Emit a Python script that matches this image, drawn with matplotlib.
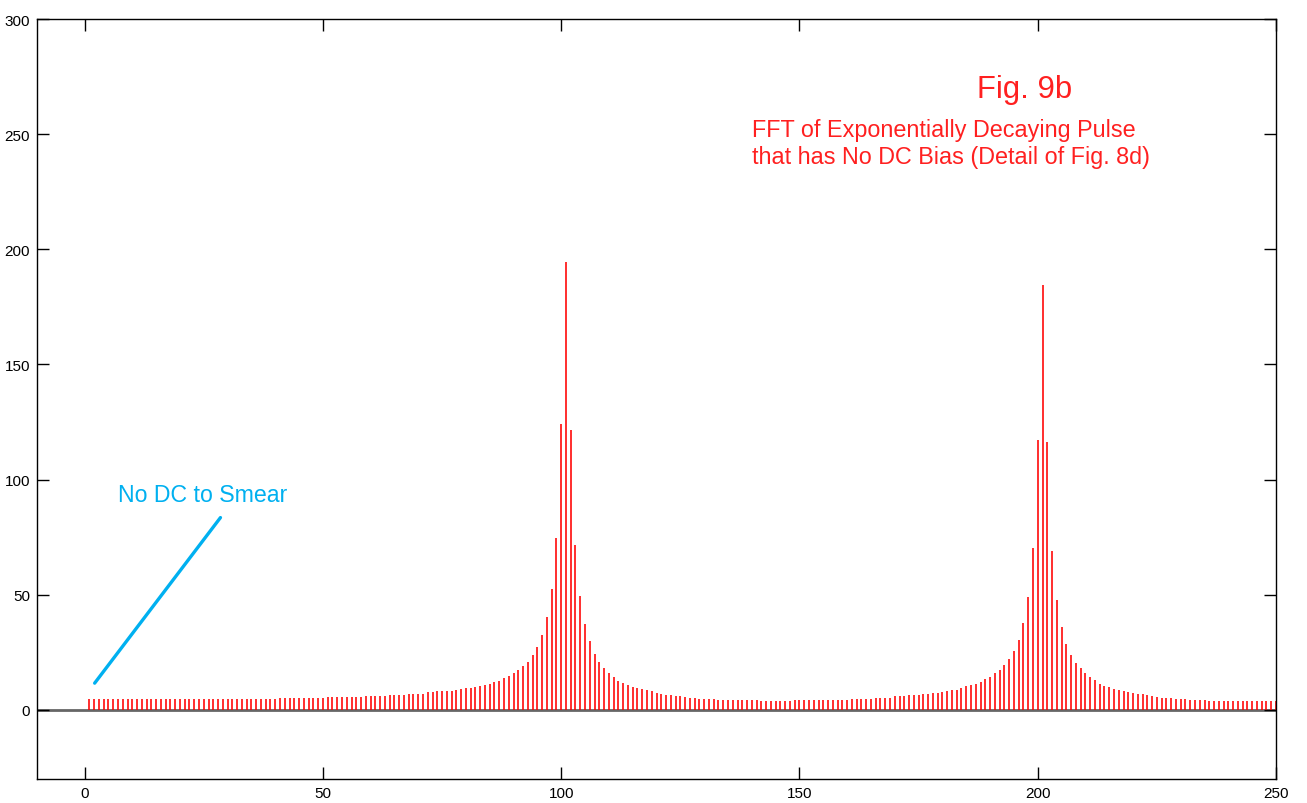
import numpy as np
import matplotlib
matplotlib.use("Agg")
import matplotlib.pyplot as plt
from matplotlib import font_manager

# FFT bins (1..250) and magnitudes
bins = np.arange(1, 251)
magnitude = [
    4.6, 4.6, 4.6, 4.6, 4.6, 4.6, 4.6, 4.6, 4.6, 4.6,
    4.6, 4.6, 4.6, 4.6, 4.6, 4.6, 4.6, 4.6, 4.6, 4.6,
    4.6, 4.6, 4.6, 4.6, 4.6, 4.6, 4.6, 4.6, 4.6, 4.6,
    4.6, 4.6, 4.6, 4.6, 4.6, 4.6, 4.6, 4.9, 4.9, 4.9,
    5.1, 5.1, 5.1, 5.1, 5.1, 5.1, 5.1, 5.1, 5.1, 5.1,
    5.5, 5.5, 5.5, 5.5, 5.5, 5.5, 5.5, 5.5, 6.1, 6.1,
    6.1, 6.1, 6.1, 6.6, 6.6, 6.6, 6.6, 7.1, 7.1, 7.1,
    7.1, 7.7, 7.7, 8.1, 8.1, 8.1, 8.1, 8.5, 8.9, 9.3,
    9.7, 10.0, 10.4, 10.8, 11.4, 12.3, 12.7, 13.7, 14.7, 15.8,
    17.2, 19.2, 21.0, 24.0, 27.5, 32.7, 40.2, 52.3, 74.7, 124.0,
    194.4, 121.7, 71.8, 49.4, 37.1, 29.9, 24.4, 21.0, 18.1, 16.2,
    14.2, 12.7, 11.7, 10.8, 9.8, 9.4, 9.0, 8.5, 8.0, 7.5,
    7.1, 6.6, 6.4, 5.9, 5.9, 5.5, 5.3, 5.3, 4.9, 4.9,
    4.9, 4.9, 4.5, 4.5, 4.5, 4.5, 4.5, 4.5, 4.5, 4.5,
    4.5, 4.0, 4.0, 4.0, 4.0, 4.0, 4.0, 4.0, 4.5, 4.5,
    4.5, 4.5, 4.5, 4.5, 4.5, 4.5, 4.5, 4.5, 4.5, 4.5,
    4.9, 4.9, 4.9, 4.9, 4.9, 5.3, 5.3, 5.3, 5.3, 5.9,
    5.9, 5.9, 6.5, 6.5, 6.5, 7.1, 7.1, 7.5, 7.5, 7.9,
    8.4, 8.8, 8.8, 9.4, 10.4, 11.0, 11.4, 12.3, 13.2, 14.3,
    15.8, 17.2, 19.7, 22.1, 25.4, 30.3, 37.7, 48.8, 70.4, 117.2,
    184.5, 116.3, 68.9, 47.8, 36.1, 28.8, 24.0, 20.5, 18.1, 15.8,
    14.2, 12.8, 11.3, 10.4, 9.8, 9.2, 8.8, 8.2, 7.8, 7.3,
    6.9, 6.9, 6.5, 5.9, 5.8, 5.3, 5.3, 5.3, 4.9, 4.9,
    4.9, 4.5, 4.5, 4.5, 4.5, 4.0, 4.0, 4.0, 4.0, 4.0,
    4.0, 4.0, 4.0, 4.0, 4.0, 4.0, 4.0, 4.0, 4.0, 4.0,
]
xticks = [0, 50, 100, 150, 200, 250]
yticks = [0, 50, 100, 150, 200, 250, 300]

# pointer line for the "No DC" note (data coords)
pointer_x = [2.1, 28.5]
pointer_y = [11.6, 83.5]

installed = {f.name for f in font_manager.fontManager.ttflist}
tick_font = "Liberation Sans Narrow" if "Liberation Sans Narrow" in installed else "Liberation Sans"
plt.rcParams["font.family"] = ["Liberation Sans", "DejaVu Sans"]

fig = plt.figure(figsize=(13.07, 8.04), dpi=100)
ax = fig.add_axes([0.0283, 0.0299, 0.9480, 0.9452])

ax.axhline(0, color="#666666", lw=2.0, zorder=1)
ax.vlines(bins, 0, magnitude, color="#ff0000", lw=1.15, zorder=2)

ax.plot(pointer_x, pointer_y, color="#00b0f0", lw=2.4, solid_capstyle="round")
ax.text(6.9, 93.5, "No DC to Smear", color="#00b0f0", fontsize=16.7, va="center", ha="left")

ax.text(197.3, 269.5, "Fig. 9b", color="#ff2020", fontsize=22.3, va="center", ha="center")
ax.text(140.0, 252.2, "FFT of Exponentially Decaying Pulse", color="#ff2020",
        fontsize=16.8, va="center", ha="left")
ax.text(140.0, 240.4, "that has No DC Bias (Detail of Fig. 8d)", color="#ff2020",
        fontsize=16.8, va="center", ha="left")

ax.set_xlim(-10, 250)
ax.set_ylim(-30, 300)
ax.set_xticks(xticks)
ax.set_yticks(yticks)
ax.tick_params(direction="in", length=8.5, width=1.0, top=True, right=True,
               labelsize=11, pad=5)
for lab in ax.get_xticklabels() + ax.get_yticklabels():
    lab.set_family(tick_font)
for s in ax.spines.values():
    s.set_linewidth(1.0)
    s.set_color("black")

fig.savefig("out.png", dpi=100)
